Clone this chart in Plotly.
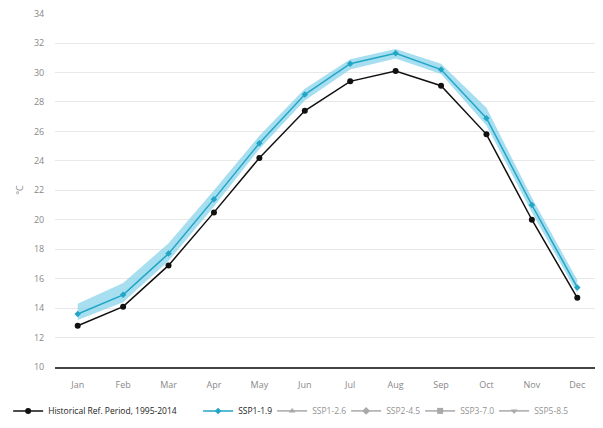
import plotly.graph_objects as go

months = ["Jan", "Feb", "Mar", "Apr", "May", "Jun", "Jul", "Aug", "Sep", "Oct", "Nov", "Dec"]
historical = [12.8, 14.1, 16.9, 20.5, 24.2, 27.4, 29.4, 30.1, 29.1, 25.8, 20.0, 14.7]
ssp119 = [13.6, 14.9, 17.7, 21.4, 25.2, 28.5, 30.6, 31.3, 30.2, 26.9, 21.0, 15.4]
ssp119_low = [13.2, 14.4, 17.2, 20.9, 24.8, 28.1, 30.2, 30.95, 29.9, 26.4, 20.5, 15.0]
ssp119_high = [14.3, 15.7, 18.4, 22.0, 25.7, 28.9, 30.9, 31.6, 30.6, 27.6, 21.5, 15.9]
y_ticks = [10, 12, 14, 16, 18, 20, 22, 24, 26, 28, 30, 32, 34]

BAND = "rgba(120,205,232,0.65)"
CYAN = "#22a6c6"

fig = go.Figure()
fig.add_trace(go.Scatter(x=months, y=ssp119_high, mode="lines", line=dict(width=0),
                         showlegend=False, hoverinfo="skip"))
fig.add_trace(go.Scatter(x=months, y=ssp119_low, mode="lines", line=dict(width=0),
                         fill="tonexty", fillcolor=BAND, showlegend=False, hoverinfo="skip"))
fig.add_trace(go.Scatter(x=months, y=historical, mode="lines+markers",
                         name="Historical Ref. Period, 1995-2014", legendwidth=145,
                         line=dict(color="#111111", width=1.5),
                         marker=dict(color="#111111", size=6, symbol="circle")))
fig.add_trace(go.Scatter(x=months, y=ssp119, mode="lines+markers", name="SSP1-1.9",
                         legendwidth=29,
                         line=dict(color=CYAN, width=1.5),
                         marker=dict(color=CYAN, size=5, symbol="diamond")))
for nm, sym in [("SSP1-2.6", "triangle-up"), ("SSP2-4.5", "diamond"),
                ("SSP3-7.0", "square"), ("SSP5-8.5", "triangle-down")]:
    fig.add_trace(go.Scatter(x=months, y=ssp119, mode="lines+markers", name=nm,
                             visible="legendonly", legendwidth=29,
                             line=dict(color="#555555", width=1.5),
                             marker=dict(color="#555555", size=6, symbol=sym)))

fig.update_layout(
    width=603, height=428,
    margin=dict(l=47, r=11, t=5, b=69, autoexpand=False),
    paper_bgcolor="white", plot_bgcolor="white",
    font=dict(family="Open Sans", size=9, color="#888888"),
    showlegend=True,
    legend=dict(orientation="h", x=-0.086, xanchor="left",
                y=-0.124, yanchor="middle",
                font=dict(size=8.5, color="#222222"), itemwidth=30,
                tracegroupgap=0, traceorder="normal"),
    xaxis=dict(type="category", range=[-0.5, 11.5], showgrid=False, automargin=False,
               showline=True, linecolor="#444444", linewidth=1.5,
               ticks="outside", ticklen=8, tickcolor="rgba(0,0,0,0)",
               tickfont=dict(size=9, color="#888888")),
    yaxis=dict(range=[10, 34.04], tickvals=y_ticks, showgrid=True, gridcolor="#e8e8e8",
               gridwidth=1, zeroline=False, showline=False, automargin=False,
               ticklabeloverflow="allow",
               ticks="outside", ticklen=8, tickcolor="rgba(0,0,0,0)",
               tickfont=dict(size=9, color="#888888"),
               title=dict(text="°C", font=dict(size=9, color="#888888"), standoff=8)),
)
fig.write_html("out.html")
